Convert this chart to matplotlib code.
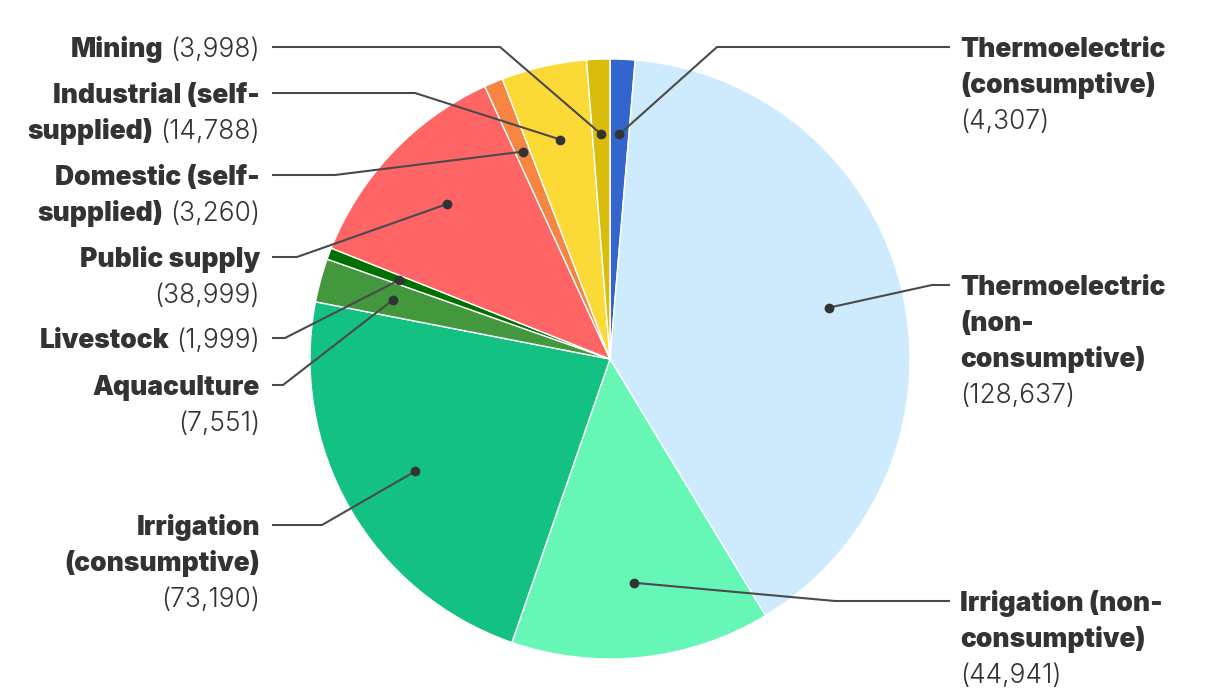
import matplotlib
matplotlib.use("Agg")
import matplotlib.pyplot as plt
import numpy as np

# ---- data ----
categories = ["Thermoelectric (consumptive)", "Thermoelectric (non-consumptive)",
              "Irrigation (non-consumptive)", "Irrigation (consumptive)",
              "Aquaculture", "Livestock", "Public supply",
              "Domestic (self-supplied)", "Industrial (self-supplied)", "Mining"]
values = [4307, 128637, 44941, 73190, 7551, 1999, 38999, 3260, 14788, 3998]
colors = ["#3366cc", "#cdebfc", "#66f7b6", "#13c282", "#43973d",
          "#007000", "#ff6565", "#f58540", "#fbda38", "#d9bc0c"]
label_lines = [["Thermoelectric", "(consumptive)"],
               ["Thermoelectric", "(non-", "consumptive)"],
               ["Irrigation (non-", "consumptive)"],
               ["Irrigation", "(consumptive)"],
               ["Aquaculture"],
               ["Livestock"],
               ["Public supply"],
               ["Domestic (self-", "supplied)"],
               ["Industrial (self-", "supplied)"],
               ["Mining"]]

# ---- layout ----
value_inline = [False, False, False, False, False, True, False, True, True, True]
side = ["R", "R", "R", "L", "L", "L", "L", "L", "L", "L"]
label_y = [47, 285, 601, 525, 385, 338, 257, 175, 93, 47]      # image px, first line
elbow_x = [717, 932, 835, 322, 283, 285, 297, 335, 415, 500]
W, H = 1220, 700
CX, CY, R = 610, 359, 300
LINE_H = 36
FS = 19
TEXT_C = "#333333"
LEADER_C = "#4a4a4a"
BOLD = dict(family=["Inter", "DejaVu Sans"], weight=900)
LIGHT = dict(family=["Inter", "DejaVu Sans"], weight=300)

fig = plt.figure(figsize=(W / 100, H / 100), dpi=100)
ax = fig.add_axes([0, 0, 1, 1])
wedges, _ = ax.pie(values, colors=colors, startangle=90, counterclock=False,
                   center=(CX, H - CY), radius=R,
                   wedgeprops=dict(edgecolor="white", linewidth=1.0))
ax.set_xlim(0, W)
ax.set_ylim(0, H)
ax.set_aspect("equal")
ax.axis("off")

renderer = fig.canvas.get_renderer()

for i, w in enumerate(wedges):
    mid = np.deg2rad((w.theta1 + w.theta2) / 2)
    dx = CX + 0.75 * R * np.cos(mid)
    dy = (H - CY) + 0.75 * R * np.sin(mid)
    yl = H - label_y[i]
    if side[i] == "L":
        xs = [272, elbow_x[i], dx]
    else:
        xs = [950, elbow_x[i], dx]
    ax.plot(xs, [yl, yl, dy], color=LEADER_C, lw=1.5, solid_capstyle="butt", zorder=5)
    ax.plot([dx], [dy], "o", color="#333333", ms=6, zorder=6)

    vtxt = f"({values[i]:,})"
    lines = [[(t, BOLD)] for t in label_lines[i]]
    if value_inline[i]:
        lines[-1].append((vtxt, LIGHT))
    else:
        lines.append([(vtxt, LIGHT)])
    for k, segs in enumerate(lines):
        yb = yl - k * LINE_H - 10
        if side[i] == "L":
            x = 260
            for t, f in reversed(segs):
                tx = ax.text(x, yb, t, ha="right", va="baseline", fontsize=FS,
                             color=TEXT_C, **f)
                bb = tx.get_window_extent(renderer)
                x = x - bb.width - 7
        else:
            x = 960
            for t, f in segs:
                tx = ax.text(x, yb, t, ha="left", va="baseline", fontsize=FS,
                             color=TEXT_C, **f)
                bb = tx.get_window_extent(renderer)
                x = x + bb.width + 7

fig.savefig("out.png", dpi=100, facecolor="white")
